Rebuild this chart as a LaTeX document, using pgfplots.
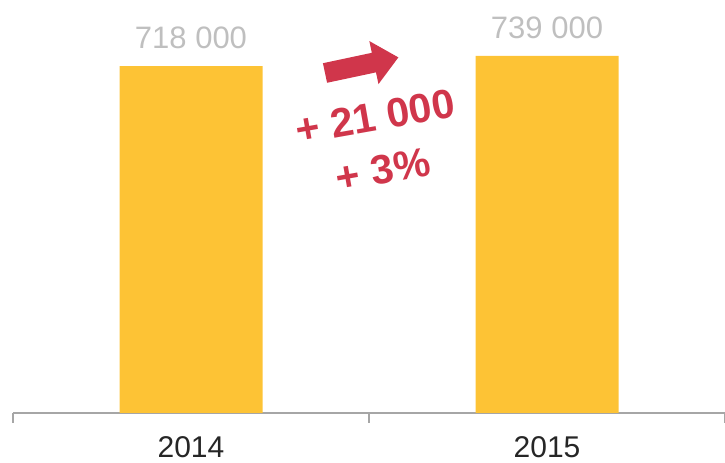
\documentclass[border=0pt]{standalone}
\usepackage{fontspec}
\setmainfont{Liberation Sans}
\usepackage{pgfplots}
\pgfplotsset{compat=1.18}
\definecolor{baryellow}{HTML}{FDC335}
\definecolor{valgray}{HTML}{BFBFBF}
\definecolor{redc}{HTML}{D0364B}
\definecolor{axgray}{HTML}{A6A6A6}
\definecolor{txt}{HTML}{262626}
\begin{document}
\begin{tikzpicture}[x=1bp,y=1bp]
\useasboundingbox (0,0) rectangle (725,463);
\begin{axis}[
 at={(13bp,50bp)}, anchor=south west,
 scale only axis, width=712bp, height=413bp,
 xmin=-0.5, xmax=1.5, ymin=0, ymax=854900,
 axis x line*=bottom, axis y line=none,
 axis line style={axgray, line width=1.5bp, -},
 xtick={0,1}, xticklabels={2014,2015},
 major tick length=0pt,
 extra x ticks={-0.5,0.5,1.5}, extra x tick labels={},
 extra x tick style={major tick length=10bp, tick align=outside, tick style={axgray, line width=1.5bp}},
 xticklabel style={font=\fontsize{30bp}{36bp}\selectfont, text=txt, inner sep=0pt, yshift=-23bp},
 ybar, bar width=143bp,
 nodes near coords, point meta=explicit symbolic,
 every node near coord/.append style={font=\fontsize{31bp}{37bp}\selectfont, text=valgray, yshift=14bp},
 clip=false,
]
\addplot[fill=baryellow, draw=none] coordinates {(0,718000) [718 000] (1,739000) [739 000]};
\end{axis}
\begin{scope}[shift={(325,390)}, rotate=12]
\fill[redc] (0,-10) -- (50,-10) -- (50,-22) -- (75,0) -- (50,22) -- (50,10) -- (0,10) -- cycle;
\end{scope}
\node[text=redc, inner sep=0pt, font=\fontsize{41bp}{48bp}\selectfont\bfseries, rotate=10] at (375,346) {+ 21 000};
\node[text=redc, inner sep=0pt, font=\fontsize{41bp}{48bp}\selectfont\bfseries, rotate=10] at (383,293) {+ 3\%};
\end{tikzpicture}
\end{document}
